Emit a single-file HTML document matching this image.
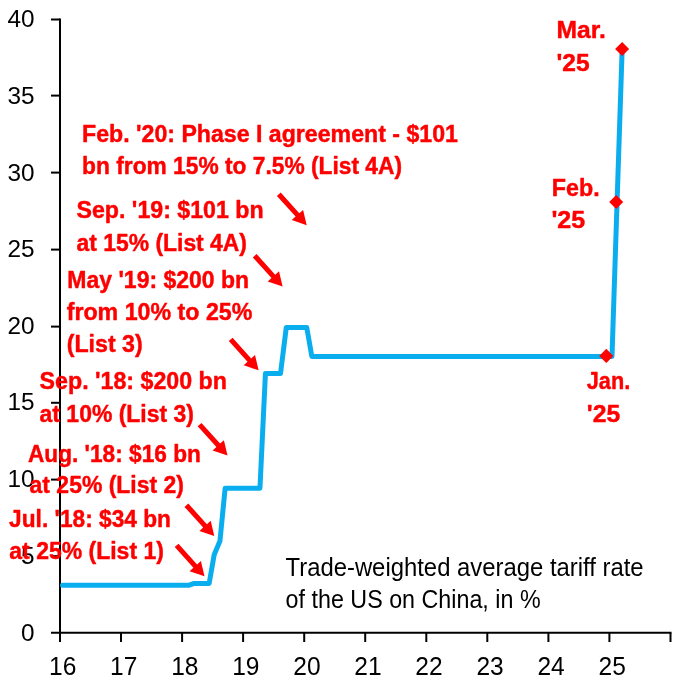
<!DOCTYPE html>
<html><head><meta charset="utf-8"><title>chart</title>
<style>
html,body{margin:0;padding:0;background:#fff;}
body{width:680px;height:680px;overflow:hidden;font-family:"Liberation Sans",sans-serif;}
svg{display:block;will-change:transform;}
.ay{font-family:"Liberation Sans",sans-serif;font-size:24px;fill:#000;}
.ax{font-family:"Liberation Sans",sans-serif;font-size:25.2px;fill:#000;}
.r{font-family:"Liberation Sans",sans-serif;font-weight:bold;font-size:24.4px;fill:#ff0000;stroke:#ff0000;stroke-width:0.45px;stroke-linejoin:round;}
.c{font-family:"Liberation Sans",sans-serif;font-size:25.8px;fill:#000;}
</style></head><body>
<svg width="680" height="680" viewBox="0 0 680 680">
<rect width="680" height="680" fill="#fff"/>

<g stroke="#000" stroke-width="2.0" fill="none">
<path d="M60,18.5 L60,632.8"/>
<path d="M51,632.8 L671.5,632.8"/>
<path d="M51,19.5 L60,19.5"/>
<path d="M51,95.6 L60,95.6"/>
<path d="M51,172.6 L60,172.6"/>
<path d="M51,249.6 L60,249.6"/>
<path d="M51,326.6 L60,326.6"/>
<path d="M51,402.8 L60,402.8"/>
<path d="M51,479.6 L60,479.6"/>
<path d="M51,556.2 L60,556.2"/>
<path d="M60.0,632.8 L60.0,642.0"/>
<path d="M121.0,632.8 L121.0,642.0"/>
<path d="M182.1,632.8 L182.1,642.0"/>
<path d="M243.1,632.8 L243.1,642.0"/>
<path d="M304.2,632.8 L304.2,642.0"/>
<path d="M365.2,632.8 L365.2,642.0"/>
<path d="M426.3,632.8 L426.3,642.0"/>
<path d="M487.3,632.8 L487.3,642.0"/>
<path d="M548.4,632.8 L548.4,642.0"/>
<path d="M609.4,632.8 L609.4,642.0"/>
<path d="M670.5,632.8 L670.5,642.0"/>
</g>
<path d="M62.54,585.20 L189.13,585.20 L194.22,583.41 L209.18,583.41 L214.17,554.77 L219.96,540.96 L225.14,488.16 L259.96,488.16 L265.44,373.45 L280.51,373.45 L286.29,327.40 L306.74,327.40 L311.83,356.42 L611.99,356.42 L617.08,201.95 L622.17,48.55" fill="none" stroke="#0aaeef" stroke-width="5.0" stroke-linejoin="round" stroke-linecap="round"/>
<g>
<text class="ay" x="7.40" y="27.30" textLength="27.10" lengthAdjust="spacingAndGlyphs">40</text>
<text class="ay" x="7.40" y="103.70" textLength="27.10" lengthAdjust="spacingAndGlyphs">35</text>
<text class="ay" x="7.40" y="180.50" textLength="27.10" lengthAdjust="spacingAndGlyphs">30</text>
<text class="ay" x="7.40" y="257.00" textLength="27.10" lengthAdjust="spacingAndGlyphs">25</text>
<text class="ay" x="7.40" y="333.50" textLength="27.10" lengthAdjust="spacingAndGlyphs">20</text>
<text class="ay" x="7.40" y="410.00" textLength="27.10" lengthAdjust="spacingAndGlyphs">15</text>
<text class="ay" x="7.40" y="486.70" textLength="27.10" lengthAdjust="spacingAndGlyphs">10</text>
<text class="ay" x="20.95" y="563.50" textLength="13.55" lengthAdjust="spacingAndGlyphs">5</text>
<text class="ay" x="20.95" y="640.50" textLength="13.55" lengthAdjust="spacingAndGlyphs">0</text>
<text class="ax" x="49.05" y="674.8" textLength="27.3" lengthAdjust="spacingAndGlyphs">16</text>
<text class="ax" x="110.10" y="674.8" textLength="27.3" lengthAdjust="spacingAndGlyphs">17</text>
<text class="ax" x="171.15" y="674.8" textLength="27.3" lengthAdjust="spacingAndGlyphs">18</text>
<text class="ax" x="232.20" y="674.8" textLength="27.3" lengthAdjust="spacingAndGlyphs">19</text>
<text class="ax" x="293.25" y="674.8" textLength="27.3" lengthAdjust="spacingAndGlyphs">20</text>
<text class="ax" x="354.30" y="674.8" textLength="27.3" lengthAdjust="spacingAndGlyphs">21</text>
<text class="ax" x="415.35" y="674.8" textLength="27.3" lengthAdjust="spacingAndGlyphs">22</text>
<text class="ax" x="476.40" y="674.8" textLength="27.3" lengthAdjust="spacingAndGlyphs">23</text>
<text class="ax" x="537.45" y="674.8" textLength="27.3" lengthAdjust="spacingAndGlyphs">24</text>
<text class="ax" x="598.50" y="674.8" textLength="27.3" lengthAdjust="spacingAndGlyphs">25</text>
</g>
<g>
<text class="r" x="9.1" y="527.0" textLength="161.9" lengthAdjust="spacingAndGlyphs">Jul. &#39;18: $34 bn</text>
<text class="r" x="9.3" y="559.1" textLength="154.6" lengthAdjust="spacingAndGlyphs">at 25% (List 1)</text>
</g>
<g>
<text class="r" x="82.1" y="141.8" textLength="375.8" lengthAdjust="spacingAndGlyphs">Feb. &#39;20: Phase I agreement - $101</text>
<text class="r" x="82.1" y="174.4" textLength="319.9" lengthAdjust="spacingAndGlyphs">bn from 15% to 7.5% (List 4A)</text>
<text class="r" x="76.5" y="218.2" textLength="187.1" lengthAdjust="spacingAndGlyphs">Sep. &#39;19: $101 bn</text>
<text class="r" x="76.5" y="250.6" textLength="170.5" lengthAdjust="spacingAndGlyphs">at 15% (List 4A)</text>
<text class="r" x="67.3" y="287.5" textLength="181.8" lengthAdjust="spacingAndGlyphs">May &#39;19: $200 bn</text>
<text class="r" x="66.7" y="319.8" textLength="185.7" lengthAdjust="spacingAndGlyphs">from 10% to 25%</text>
<text class="r" x="66.7" y="352.4" textLength="76.0" lengthAdjust="spacingAndGlyphs">(List 3)</text>
<text class="r" x="39.6" y="389.3" textLength="187.3" lengthAdjust="spacingAndGlyphs">Sep. &#39;18: $200 bn</text>
<text class="r" x="39.6" y="421.6" textLength="154.3" lengthAdjust="spacingAndGlyphs">at 10% (List 3)</text>
<text class="r" x="28.0" y="461.7" textLength="172.8" lengthAdjust="spacingAndGlyphs">Aug. &#39;18: $16 bn</text>
<text class="r" x="29.6" y="493.4" textLength="154.3" lengthAdjust="spacingAndGlyphs">at 25% (List 2)</text>
<text class="r" x="556.5" y="38.2" textLength="49.3" lengthAdjust="spacingAndGlyphs">Mar.</text>
<text class="r" x="556.5" y="70.9" textLength="33.1" lengthAdjust="spacingAndGlyphs">&#39;25</text>
<text class="r" x="551.8" y="196.2" textLength="47.8" lengthAdjust="spacingAndGlyphs">Feb.</text>
<text class="r" x="551.4" y="228.2" textLength="33.8" lengthAdjust="spacingAndGlyphs">&#39;25</text>
<text class="r" x="586.8" y="389.1" textLength="43.4" lengthAdjust="spacingAndGlyphs">Jan.</text>
<text class="r" x="586.8" y="421.9" textLength="33.4" lengthAdjust="spacingAndGlyphs">&#39;25</text>
</g>
<text class="c" x="285.5" y="575.5" textLength="358.1" lengthAdjust="spacingAndGlyphs">Trade-weighted average tariff rate</text>
<text class="c" x="285.6" y="608.1" textLength="255.0" lengthAdjust="spacingAndGlyphs">of the US on China, in %</text>
<path d="M276.9,196.0 L295.6,216.6 L291.8,220.1 L306.7,225.2 L303.1,209.9 L299.3,213.3 L280.7,192.6 Z" fill="#ff0000"/>
<path d="M252.8,257.4 L271.5,278.0 L267.7,281.5 L282.6,286.6 L279.0,271.3 L275.2,274.7 L256.6,254.0 Z" fill="#ff0000"/>
<path d="M228.8,341.1 L247.5,361.7 L243.7,365.2 L258.6,370.3 L255.0,355.0 L251.2,358.4 L232.6,337.7 Z" fill="#ff0000"/>
<path d="M197.7,426.3 L216.4,446.9 L212.6,450.4 L227.5,455.5 L223.9,440.2 L220.1,443.6 L201.5,422.9 Z" fill="#ff0000"/>
<path d="M184.5,506.9 L203.2,527.5 L199.4,531.0 L214.3,536.1 L210.7,520.8 L206.9,524.2 L188.3,503.5 Z" fill="#ff0000"/>
<path d="M174.7,547.1 L193.4,567.7 L189.6,571.2 L204.5,576.3 L200.9,561.0 L197.1,564.4 L178.5,543.7 Z" fill="#ff0000"/>
<path d="M606.3,348.8 L613.3,355.9 L606.3,362.9 L599.2,355.9 Z" fill="#ff0000"/>
<path d="M616.2,194.9 L623.2,202.0 L616.2,209.1 L609.2,202.0 Z" fill="#ff0000"/>
<path d="M622.1,42.0 L629.1,49.0 L622.1,56.0 L615.1,49.0 Z" fill="#ff0000"/>
</svg></body></html>
